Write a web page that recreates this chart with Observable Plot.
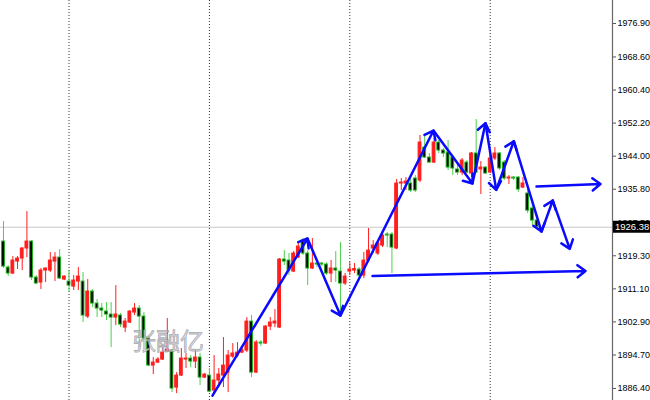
<!DOCTYPE html>
<html><head><meta charset="utf-8">
<script src="https://cdn.jsdelivr.net/npm/d3@7"></script>
<script src="https://cdn.jsdelivr.net/npm/@observablehq/plot@0.6"></script>
<style>
body{margin:0;background:#fff;}
#wrap{position:relative;width:650px;height:400px;overflow:hidden;background:#fff;}
#wm{position:absolute;left:132px;top:328px;font-size:24px;line-height:1;font-family:"Noto Sans CJK SC",sans-serif;color:rgba(215,215,220,0.75);-webkit-text-stroke:0.8px rgba(140,140,150,0.7);pointer-events:none;white-space:nowrap;}
</style></head><body><div id="wrap"></div>
<script>
// OHLC per bar (index 0..114)
const opens=[1922.83,1916.38,1914.90,1917.87,1918.62,1921.10,1922.83,1913.90,1912.66,1915.64,
1915.64,1917.87,1918.86,1913.41,1912.91,1911.67,1912.91,1912.91,1904.23,1910.43,
1907.46,1906.22,1905.47,1904.73,1903.98,1904.48,1901.50,1902.74,1905.22,1906.22,
1904.23,1898.78,1892.08,1892.82,1893.57,1895.55,1895.80,1886.62,1889.60,1893.57,
1893.82,1893.07,1894.06,1889.10,1889.60,1885.88,1888.36,1889.60,1890.34,1894.31,
1894.56,1895.30,1895.80,1902.99,1890.34,1897.78,1897.54,1901.75,1902.50,1901.50,
1918.37,1918.12,1915.39,1918.86,1923.08,1919.86,1916.14,1917.38,1917.38,1917.13,
1914.90,1916.14,1915.39,1912.42,1915.39,1915.64,1915.89,1914.40,1918.12,1921.10,
1919.86,1921.84,1924.57,1924.57,1921.10,1937.22,1937.22,1937.22,1938.46,1937.96,
1946.14,1943.66,1942.42,1947.38,1945.40,1944.90,1943.66,1940.69,1939.94,1942.42,
1939.70,1944.66,1940.69,1941.18,1939.94,1943.42,1944.66,1942.42,1938.46,1938.70,
1938.70,1936.22,1934.74,1931.02,1928.04];
const highs=[1927.79,1916.88,1919.11,1919.11,1921.34,1930.27,1923.08,1914.40,1916.14,1916.30,
1920.10,1920.10,1920.85,1914.30,1915.64,1914.40,1916.38,1915.14,1913.41,1910.93,
1908.45,1907.46,1907.70,1907.70,1911.92,1904.98,1903.74,1905.72,1907.46,1906.96,
1905.22,1899.27,1894.06,1894.06,1896.54,1903.74,1896.05,1890.34,1896.30,1895.06,
1894.56,1895.80,1895.06,1890.10,1891.34,1894.56,1891.34,1899.02,1895.80,1897.54,
1897.78,1896.54,1903.98,1904.48,1898.28,1898.28,1902.00,1903.98,1905.97,1918.62,
1920.60,1919.86,1920.35,1922.83,1923.58,1920.60,1923.58,1917.87,1917.62,1917.62,
1918.12,1920.35,1922.58,1914.90,1917.62,1917.38,1916.38,1920.10,1926.06,1923.08,
1923.08,1925.56,1925.06,1925.06,1938.21,1938.46,1938.70,1938.46,1939.20,1949.12,
1949.12,1944.66,1948.38,1947.88,1945.90,1947.88,1944.16,1942.18,1943.42,1942.92,
1944.90,1953.09,1942.67,1941.43,1944.90,1946.14,1944.90,1942.92,1939.20,1938.95,
1938.95,1938.70,1935.98,1932.26,1928.78];
const lows=[1916.14,1914.15,1914.65,1915.89,1915.64,1918.86,1913.16,1912.17,1910.93,1912.66,
1915.14,1912.91,1913.41,1913.16,1910.18,1910.68,1910.68,1902.74,1903.74,1906.46,
1903.98,1903.98,1903.24,1896.54,1902.00,1901.50,1900.26,1902.50,1904.48,1896.54,
1898.28,1891.83,1889.85,1892.58,1893.32,1895.30,1885.38,1885.14,1889.35,1891.34,
1891.58,1891.34,1887.12,1888.86,1885.38,1885.14,1886.62,1886.62,1885.38,1893.82,
1894.06,1895.06,1895.30,1889.10,1890.10,1896.79,1897.29,1900.76,1901.50,1901.26,
1916.88,1914.40,1915.14,1918.62,1919.36,1911.92,1915.89,1916.38,1916.63,1914.40,
1912.66,1912.66,1904.48,1911.92,1914.40,1914.90,1913.90,1913.66,1917.62,1919.86,
1919.36,1921.34,1921.34,1914.90,1920.85,1935.48,1935.48,1934.98,1934.98,1937.46,
1943.42,1942.18,1942.18,1944.66,1943.66,1940.44,1939.20,1939.20,1939.20,1939.70,
1938.70,1939.70,1934.49,1939.45,1939.70,1942.92,1940.44,1937.96,1936.97,1937.96,
1934.98,1935.98,1929.80,1926.80,1926.06];
const closes=[1916.63,1914.90,1918.12,1918.62,1921.10,1922.83,1913.90,1912.42,1915.64,1916.14,
1918.12,1918.86,1913.66,1914.15,1911.92,1913.16,1914.15,1904.48,1910.43,1907.46,
1906.22,1905.72,1904.73,1903.98,1904.73,1902.25,1902.99,1905.47,1906.22,1904.23,
1898.78,1892.08,1892.82,1893.57,1895.30,1896.05,1886.38,1889.60,1893.82,1893.82,
1893.07,1894.06,1889.10,1889.85,1885.63,1888.36,1889.85,1892.08,1894.56,1895.06,
1895.30,1895.80,1902.99,1890.34,1897.78,1897.54,1901.75,1902.74,1902.99,1918.37,
1917.87,1915.64,1919.86,1921.59,1919.86,1916.14,1917.38,1917.13,1917.13,1914.90,
1916.14,1915.64,1912.42,1914.15,1915.89,1916.00,1914.40,1918.12,1920.60,1921.84,
1922.34,1924.32,1924.32,1921.34,1937.22,1937.46,1937.71,1935.48,1935.48,1947.38,
1943.66,1942.42,1947.38,1945.40,1944.66,1941.18,1940.94,1939.94,1942.92,1939.94,
1944.66,1939.94,1941.18,1939.70,1943.42,1944.66,1940.94,1938.46,1938.70,1938.46,
1935.73,1937.22,1930.50,1928.04,1926.38];

// price-axis tick labels
const yTicks=[1976.90,1968.60,1960.40,1952.20,1944.00,1935.80,1927.50,1919.30,1911.10,1902.90,1894.70,1886.40];
// period separators (bar indices)
const sepIdx=[14,44,74,104];
// hand-drawn zigzag annotation (bar index, price)
const zigI=[44.66,64.96,72.01,91.88,100.21,102.99,105.28,109.04,114.96,117.37,121.0];
const zigP=[1884.64,1923.58,1904.48,1950.36,1937.22,1952.17,1935.65,1947.71,1925.31,1933.0,1921.02];
// two horizontal arrows: start (index, price) -> end (index, price)
const hArrowI1=[113.89,78.85];
const hArrowP1=[1936.47,1914.28];
const hArrowI2=[127.56,124.36];
const hArrowP2=[1937.09,1915.52];

const n=closes.length;
const candles=d3.range(n).map(i=>({i,o:opens[i],h:highs[i],l:lows[i],c:closes[i],up:closes[i]>=opens[i]}));
const segs=[];
for(let k=0;k<zigI.length-1;k++) segs.push({x1:zigI[k],y1:zigP[k],x2:zigI[k+1],y2:zigP[k+1]});
for(let k=0;k<hArrowI1.length;k++) segs.push({x1:hArrowI1[k],y1:hArrowP1[k],x2:hArrowI2[k],y2:hArrowP2[k]});

const xDomain=[-0.64,130.13];
const yDomain=[1883.42,1982.6];
const lastClose=closes[n-1];
const RED="#ff1e1e", GREEN="#4ccf4c";

const chart=Plot.plot({
  width:650,height:400,marginLeft:0,marginRight:38,marginTop:0,marginBottom:0,
  x:{type:"linear",domain:xDomain,axis:null},
  y:{domain:yDomain,axis:null},
  style:{fontFamily:"'Liberation Sans', Arial, sans-serif",fontSize:"9px",background:"#fff",color:"#000",overflow:"visible"},
  marks:[
    Plot.ruleY([lastClose],{stroke:"#c8c8c8",strokeWidth:1}),
    Plot.ruleX(sepIdx,{stroke:"#333",strokeDasharray:"1,2",strokeWidth:1}),
    Plot.ruleX(candles,{x:"i",y1:"l",y2:"h",stroke:d=>d.up?RED:GREEN,strokeWidth:1}),
    Plot.rect(candles,{x1:d=>d.i-0.3,x2:d=>d.i+0.3,y1:"o",y2:"c",fill:d=>d.up?RED:"#000",stroke:d=>d.up?RED:"#1fb01f",strokeWidth:1}),
    Plot.arrow(segs,{x1:"x1",y1:"y1",x2:"x2",y2:"y2",stroke:"#0a0aff",strokeWidth:2.5,headLength:6,headAngle:75}),
    Plot.axisY({anchor:"right",ticks:yTicks,tickFormat:d=>d.toFixed(2),tickSize:3,tickPadding:2,stroke:"#555"}),
    Plot.ruleX([xDomain[1]],{stroke:"#666",strokeWidth:1.2})
  ]
});
document.getElementById("wrap").appendChild(chart);

// current-price label on the price axis
const ys=chart.scale("y").apply(lastClose);
const svg=d3.select(chart);
svg.append("rect").attr("x",613).attr("y",ys-6).attr("width",37).attr("height",12).attr("fill","#000");
svg.append("text").attr("x",615).attr("y",ys+3.5).attr("fill","#fff").attr("font-size","9.5px")
  .attr("text-anchor","start")
  .attr("font-family","'Liberation Sans', Arial, sans-serif").text(lastClose.toFixed(2));

const wm=document.createElement("div");
wm.id="wm";wm.textContent="张融亿";
document.getElementById("wrap").appendChild(wm);
</script>
</body></html>
